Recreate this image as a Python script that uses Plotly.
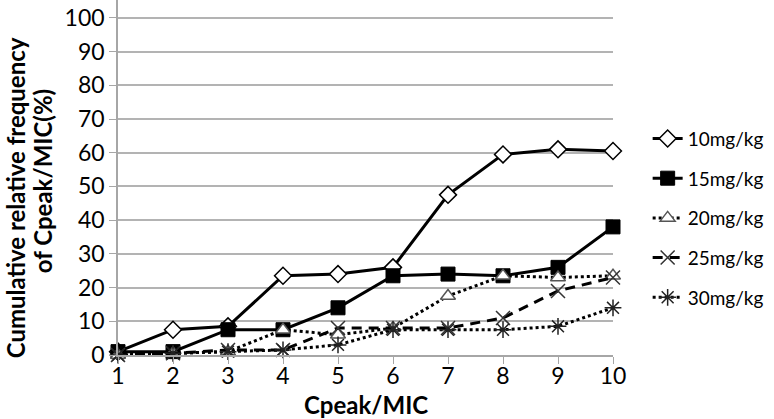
import plotly.graph_objects as go

x_vals = [1, 2, 3, 4, 5, 6, 7, 8, 9, 10]
series_names = ["10mg/kg", "15mg/kg", "20mg/kg", "25mg/kg", "30mg/kg"]
s10 = [1, 7.5, 8.5, 23.5, 24, 26, 47.5, 59.5, 61, 60.5]
s15 = [1, 1, 7.5, 7.5, 14, 23.5, 24, 23.5, 26, 38]
s20 = [0, 0.5, 1, 7.5, 6, 8, 17.5, 23.5, 23, 23.5]
s25 = [0, 0.5, 1.5, 1.5, 8, 8, 8, 11, 19, 23]
s30 = [0, 0.5, 1, 1.5, 3, 7.5, 7.5, 7.5, 8.5, 14]
y_ticks = [0, 10, 20, 30, 40, 50, 60, 70, 80, 90, 100]

FONT = "Lato"

styles = [
    dict(dash="solid", symbol="diamond", size=13, mcolor="white", lcol="black", lw=1.5),
    dict(dash="solid", symbol="square", size=14, mcolor="black", lcol="black", lw=1),
    dict(dash="dot", symbol="triangle-up", size=13, mcolor="white", lcol="#555555", lw=1.5),
    dict(dash="10px,7px", symbol="x-thin", size=14, mcolor="black", lcol="#333333", lw=1.5),
    dict(dash="dot", symbol="asterisk", size=14, mcolor="black", lcol="#222222", lw=1.5),
]

fig = go.Figure()
for name, ys, st in zip(series_names, [s10, s15, s20, s25, s30], styles):
    fig.add_trace(go.Scatter(
        x=x_vals, y=ys, name=name, mode="lines+markers",
        legendgroup=name,
        cliponaxis=False,
        line=dict(color="black", width=3, dash=st["dash"]),
        marker=dict(symbol=st["symbol"], size=st["size"], color=st["mcolor"],
                    line=dict(color=st["lcol"], width=st["lw"])),
    ))

fig.update_layout(
    width=774, height=419,
    margin=dict(l=117.5, r=161, t=0, b=63.5, autoexpand=False),
    paper_bgcolor="white", plot_bgcolor="white",
    font=dict(family=FONT, color="black"),
    showlegend=True,
    legend=dict(x=1.07, xanchor="left", y=0.663, yanchor="top",
                font=dict(size=19, family=FONT), tracegroupgap=12,
                bgcolor="rgba(0,0,0,0)"),
    xaxis=dict(range=[1, 10], tickvals=x_vals, ticks="outside", ticklen=7,
               tickcolor="#a6a6a6", showline=True, linecolor="#a6a6a6", linewidth=1.5,
               showgrid=False, zeroline=False, tickfont=dict(size=23, family=FONT),
               ticklabelstandoff=-7, ticklabeloverflow="allow", automargin=False),
    yaxis=dict(range=[0, 105.3], tickvals=y_ticks, ticks="outside", ticklen=7,
               tickcolor="#a6a6a6", showline=True, linecolor="#a6a6a6", linewidth=1.5,
               showgrid=True, gridcolor="#b3b3b3", gridwidth=1.5, zeroline=False,
               tickfont=dict(size=23, family=FONT), ticklabeloverflow="allow",
               automargin=False),
    annotations=[
        dict(text="<b>Cumulative relative frequency</b>",
             xref="paper", yref="paper", x=-0.2069, y=0.443, xanchor="center", yanchor="middle",
             textangle=-90, showarrow=False, font=dict(size=24, family=FONT)),
        dict(text="<b>of Cpeak/MIC(%)</b>",
             xref="paper", yref="paper", x=-0.1524, y=0.488, xanchor="center", yanchor="middle",
             textangle=-90, showarrow=False, font=dict(size=24, family=FONT)),
        dict(text="<b>Cpeak/MIC</b>", xref="paper", yref="paper", x=0.5, y=-0.1392,
             xanchor="center", yanchor="middle", showarrow=False,
             font=dict(size=24, family=FONT)),
    ],
)

fig.write_html("out.html", config={"displayModeBar": False},
               post_script="document.body.style.margin='0';")
